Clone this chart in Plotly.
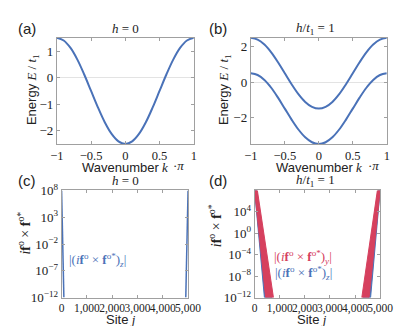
import plotly.graph_objects as go

# ---------------- data ----------------
k_vals = [-1.0, -0.9, -0.8, -0.7, -0.6, -0.5, -0.4, -0.3, -0.2, -0.1, 0.0,
          0.1, 0.2, 0.3, 0.4, 0.5, 0.6, 0.7, 0.8, 0.9, 1.0]

# band of panel (a), h = 0
energy_a = [1.5, 1.4, 1.12, 0.68, 0.12, -0.5, -1.12, -1.68, -2.12, -2.4, -2.5,
            -2.4, -2.12, -1.68, -1.12, -0.5, 0.12, 0.68, 1.12, 1.4, 1.5]

# bands of panel (b), h/t1 = 1
energy_b_upper = [2.5, 2.4, 2.12, 1.68, 1.12, 0.5, -0.12, -0.68, -1.12, -1.4, -1.5,
                  -1.4, -1.12, -0.68, -0.12, 0.5, 1.12, 1.68, 2.12, 2.4, 2.5]
energy_b_lower = [0.5, 0.4, 0.12, -0.32, -0.88, -1.5, -2.12, -2.68, -3.12, -3.4, -3.5,
                  -3.4, -3.12, -2.68, -2.12, -1.5, -0.88, -0.32, 0.12, 0.4, 0.5]

# panel (c): edge-localised |(if x f*)_z|
site_c = [0, 90, None, 4910, 5000]
amp_c = [1e8, 1e-12, None, 1e-12, 1e8]

# panel (d): oscillating envelopes drawn as filled bands
site_d_y_left = [0, 110, 750, 440, 0]
amp_d_y_left = [1e8, 1e8, 1e-12, 1e-12, 1e8]
site_d_y_right = [5000, 4890, 4270, 4560, 5000]
amp_d_y_right = [1e8, 1e8, 1e-12, 1e-12, 1e8]
site_d_z_left = [0, 80, 690, 390, 0]
amp_d_z_left = [1e8, 1e8, 1e-12, 1e-12, 1e8]
site_d_z_right = [5000, 4920, 4330, 4620, 5000]
amp_d_z_right = [1e8, 1e8, 1e-12, 1e-12, 1e8]

k_ticks = [-1, -0.5, 0, 0.5, 1]
k_ticktext = ["\u22121", "\u22120.5", "0", "0.5", "1"]
ea_ticks = [-2, -1, 0, 1]
ea_ticktext = ["\u22122", "\u22121", "0", "1"]
eb_ticks = [-2, 0, 2]
eb_ticktext = ["\u22122", "0", "2"]
site_ticks = [0, 1000, 2000, 3000, 4000, 5000]
site_ticktext = ["0", "1,000", "2,000", "3,000", "4,000", "5,000"]
c_ticks = [1e-12, 1e-7, 1e-2, 1e3, 1e8]
c_ticktext = ["10<sup>\u221212</sup>", "10<sup>\u22127</sup>", "10<sup>\u22122</sup>",
              "10<sup>3</sup>", "10<sup>8</sup>"]
d_ticks = [1e-12, 1e-8, 1e-4, 1, 1e4]
d_ticktext = ["10<sup>\u221212</sup>", "10<sup>\u22128</sup>", "10<sup>\u22124</sup>",
              "10<sup>0</sup>", "10<sup>4</sup>"]

# ---------------- style ----------------
BLUE = "#4a72b8"
RED = "#d6405e"
SERIF = "Liberation Serif"
SANS = "Liberation Sans"
W, H = 407, 326


def px_x(p):
    return p / W


def px_y(p):
    return 1 - p / H


fig = go.Figure()

fig.add_trace(go.Scatter(x=k_vals, y=energy_a, mode="lines", line=dict(color=BLUE, width=2, shape="spline"),
                         xaxis="x", yaxis="y"))
fig.add_trace(go.Scatter(x=k_vals, y=energy_b_upper, mode="lines", line=dict(color=BLUE, width=2, shape="spline"),
                         xaxis="x2", yaxis="y2"))
fig.add_trace(go.Scatter(x=k_vals, y=energy_b_lower, mode="lines", line=dict(color=BLUE, width=2, shape="spline"),
                         xaxis="x2", yaxis="y2"))
fig.add_trace(go.Scatter(x=site_c, y=amp_c, mode="lines", line=dict(color=BLUE, width=1.5),
                         xaxis="x3", yaxis="y3"))
for sx, sy, col in [(site_d_z_left, amp_d_z_left, BLUE), (site_d_z_right, amp_d_z_right, BLUE),
                    (site_d_y_left, amp_d_y_left, RED), (site_d_y_right, amp_d_y_right, RED)]:
    fig.add_trace(go.Scatter(x=sx, y=sy, mode="lines", fill="toself", fillcolor=col,
                             line=dict(color=col, width=1), xaxis="x4", yaxis="y4"))

axis_common = dict(
    showline=True, linecolor="#a0a0a0", linewidth=1, mirror="allticks",
    ticks="inside", ticklen=3, tickcolor="#a0a0a0", showgrid=False,
    tickfont=dict(family=SERIF, size=13, color="#222"), tickangle=0,
)
k_font = dict(family=SERIF, size=12.5, color="#222")
site_font = dict(family=SERIF, size=11.5, color="#222")

fig.update_layout(
    width=W, height=H, margin=dict(l=0, r=0, t=0, b=0),
    paper_bgcolor="white", plot_bgcolor="white", showlegend=False,
    xaxis=dict(axis_common, domain=[px_x(44), px_x(188)], range=[-1, 1], anchor="y",
               tickvals=k_ticks, ticktext=k_ticktext, zeroline=False, tickfont=k_font),
    yaxis=dict(axis_common, domain=[px_y(134), px_y(22)], range=[-2.5, 1.5], anchor="x",
               tickvals=ea_ticks, ticktext=ea_ticktext, zeroline=True, zerolinecolor="#e3e3e3",
               zerolinewidth=1),
    xaxis2=dict(axis_common, domain=[px_x(248), px_x(391)], range=[-1, 1], anchor="y2",
                tickvals=k_ticks, ticktext=k_ticktext, zeroline=False, tickfont=k_font),
    yaxis2=dict(axis_common, domain=[px_y(134), px_y(22)], range=[-3.5, 2.5], anchor="x2",
                tickvals=eb_ticks, ticktext=eb_ticktext, zeroline=True, zerolinecolor="#e3e3e3",
                zerolinewidth=1),
    xaxis3=dict(axis_common, domain=[px_x(49), px_x(182)], range=[0, 5000], anchor="y3",
                tickvals=site_ticks, ticktext=site_ticktext, zeroline=False, tickfont=site_font),
    yaxis3=dict(axis_common, domain=[px_y(296), px_y(183)], type="log", range=[-12, 8], anchor="x3",
                tickvals=c_ticks, ticktext=c_ticktext),
    xaxis4=dict(axis_common, domain=[px_x(252), px_x(384)], range=[0, 5000], anchor="y4",
                tickvals=site_ticks, ticktext=site_ticktext, zeroline=False, tickfont=site_font),
    yaxis4=dict(axis_common, domain=[px_y(296), px_y(183)], type="log", range=[-12, 8], anchor="x4",
                tickvals=d_ticks, ticktext=d_ticktext),
)


def note(text, x, y, size=13, family=SERIF, color="#222", angle=0, xanchor="center"):
    fig.add_annotation(text=text, x=px_x(x), y=px_y(y), xref="paper", yref="paper",
                       showarrow=False, textangle=angle, xanchor=xanchor, yanchor="middle",
                       font=dict(family=family, size=size, color=color))


# panel labels
note("(a)", 1, 12, size=15, family=SANS, xanchor="left")
note("(b)", 202, 12, size=15, family=SANS, xanchor="left")
note("(c)", 1, 172, size=15, family=SANS, xanchor="left")
note("(d)", 202, 172, size=15, family=SANS, xanchor="left")

# titles
note("<i>h</i> = 0", 116, 12)
note("<i>h</i>/<i>t</i><sub>1</sub> = 1", 316, 12)
note("<i>h</i> = 0", 116, 173)
note("<i>h</i>/<i>t</i><sub>1</sub> = 1", 316, 173)

# axis titles
energy_lbl = "<span style='font-family:Liberation Sans'>Energy</span> <i>E</i> / <i>t</i><sub>1</sub>"
note(energy_lbl, 19, 77, angle=-90)
note(energy_lbl, 221, 77, angle=-90)
wave_lbl = "<span style='font-family:Liberation Sans'>Wavenumber</span> <i>k</i>"
note(wave_lbl, 116, 159)
note("\u00b7<i>\u03c0</i>", 172, 157)
note(wave_lbl, 320, 159)
note("\u00b7<i>\u03c0</i>", 377, 157)
site_lbl = "<span style='font-family:Liberation Sans'>Site</span> <i>j</i>"
note(site_lbl, 112, 319)
note(site_lbl, 312, 319)
f_lbl = "<i>i</i><b>f</b><sup>o</sup> \u00d7 <b>f</b><sup>o*</sup>"
note(f_lbl, 10, 228, size=14, angle=-90)
note(f_lbl, 210, 220, size=14, angle=-90)

# in-plot labels
note("|(<i>i</i><b>f</b><sup>o</sup> \u00d7 <b>f</b><sup>o*</sup>)<sub><i>z</i></sub>|",
     87, 256, color=BLUE, size=13)
note("|(<i>i</i><b>f</b><sup>o</sup> \u00d7 <b>f</b><sup>o*</sup>)<sub><i>y</i></sub>|",
     303, 253, color=RED, size=13)
note("|(<i>i</i><b>f</b><sup>o</sup> \u00d7 <b>f</b><sup>o*</sup>)<sub><i>z</i></sub>|",
     303, 270, color=BLUE, size=13)

fig.write_html("out.html")
